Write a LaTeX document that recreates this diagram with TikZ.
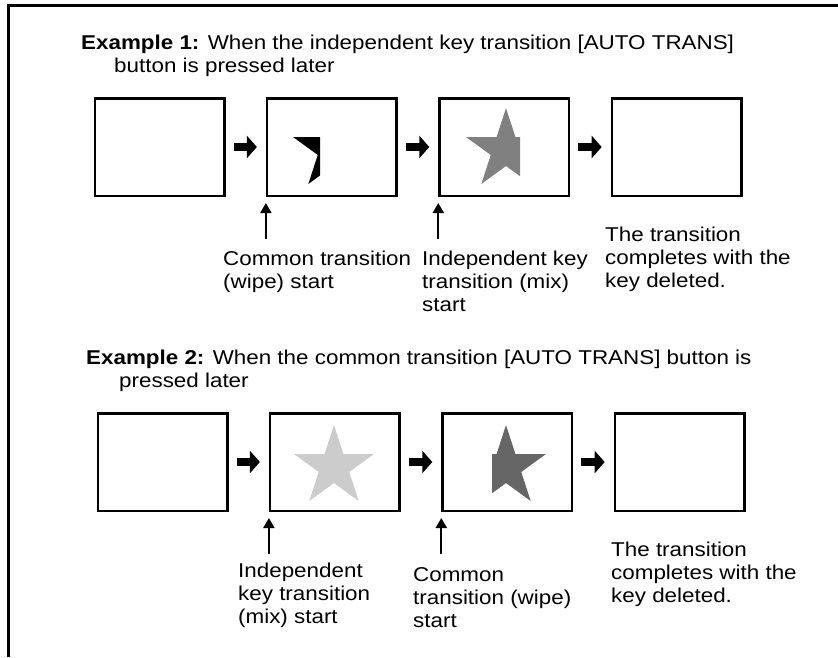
\documentclass[tikz,border=0pt]{standalone}
\usepackage{fontspec}
\setmainfont{Liberation Sans}[FakeStretch=1.12]
\usetikzlibrary{positioning, arrows.meta, shapes.geometric}
\definecolor{lightkey}{HTML}{CCCCCC}
\definecolor{mixkey}{HTML}{808080}
\definecolor{darkkey}{HTML}{666666}
\tikzset{
  screen/.style={draw, line width=2.5pt, minimum width=129.5pt, minimum height=97.5pt, inner sep=0pt},
  blockarrow/.style={-{Triangle[length=10pt,width=22pt]}, line width=8pt, shorten <=8pt, shorten >=9pt},
  startarrow/.style={-{Triangle[length=10pt,width=11pt]}, line width=2pt, shorten >=6pt},
  note/.style={align=left, anchor=base west, inner sep=0pt, font=\fontsize{20}{23}\selectfont},
  keystar/.style={star, star points=5, star point ratio=2.618, minimum size=84pt, inner sep=0pt}
}

\begin{document}
\begin{tikzpicture}[x=1pt,y=-1pt,node distance=172.4pt,on grid]
  \useasboundingbox (0,0) rectangle (838,657);
  \draw[line width=2.8pt] (8.7,657) -- (8.7,5.5) -- (838,5.5);

  % Example 1
  \node[note] (title1) at (81,72) {%
    \textbf{Example 1:} When the independent key transition [AUTO TRANS]\\
    \hspace{33pt}button is pressed later};

  \node[screen] (a1) at (159.5,147) {};
  \node[screen] (a2) [right=of a1] {};
  \node[screen] (a3) [right=of a2] {};
  \node[screen] (a4) [right=of a3] {};

  \begin{scope}
    \clip (250,90) rectangle (320,200);
    \node[keystar, fill=black] (k2) at (333,150) {};
  \end{scope}
  \begin{scope}
    \clip (430,90) rectangle (520,200);
    \node[keystar, fill=mixkey] (k3) at (506,150) {};
  \end{scope}

  \draw[blockarrow] (a1) -- (a2);
  \draw[blockarrow] (a2) -- (a3);
  \draw[blockarrow] (a3) -- (a4);

  \path (a2.south west) ++(0,42) coordinate (s2);
  \path (a3.south west) ++(0,42) coordinate (s3);
  \draw[startarrow] (s2) -- (a2.south west);
  \draw[startarrow] (s3) -- (a3.south west);

  \node[note] (n2) at (223,288) {Common transition\\(wipe) start};
  \node[note] (n3) at (422,311) {Independent key\\transition (mix)\\start};
  \node[note] (n4) at (605,287) {The transition\\completes with the\\key deleted.};

  % Example 2
  \node[note] (title2) at (86,387) {%
    \textbf{Example 2:} When the common transition [AUTO TRANS] button is\\
    \hspace{33pt}pressed later};

  \node[screen] (b1) at (162.5,462) {};
  \node[screen] (b2) [right=of b1] {};
  \node[screen] (b3) [right=of b2] {};
  \node[screen] (b4) [right=of b3] {};

  \node[keystar, fill=lightkey] (m2) at (334,467) {};
  \begin{scope}
    \clip (492,400) rectangle (580,520);
    \node[keystar, fill=darkkey] (m3) at (506,467) {};
  \end{scope}

  \draw[blockarrow] (b1) -- (b2);
  \draw[blockarrow] (b2) -- (b3);
  \draw[blockarrow] (b3) -- (b4);

  \path (b2.south west) ++(0,42) coordinate (r2);
  \path (b3.south west) ++(0,42) coordinate (r3);
  \draw[startarrow] (r2) -- (b2.south west);
  \draw[startarrow] (r3) -- (b3.south west);

  \node[note] (p2) at (238,623) {Independent\\key transition\\(mix) start};
  \node[note] (p3) at (413,627) {Common\\transition (wipe)\\start};
  \node[note] (p4) at (611,602) {The transition\\completes with the\\key deleted.};

\end{tikzpicture}
\end{document}
